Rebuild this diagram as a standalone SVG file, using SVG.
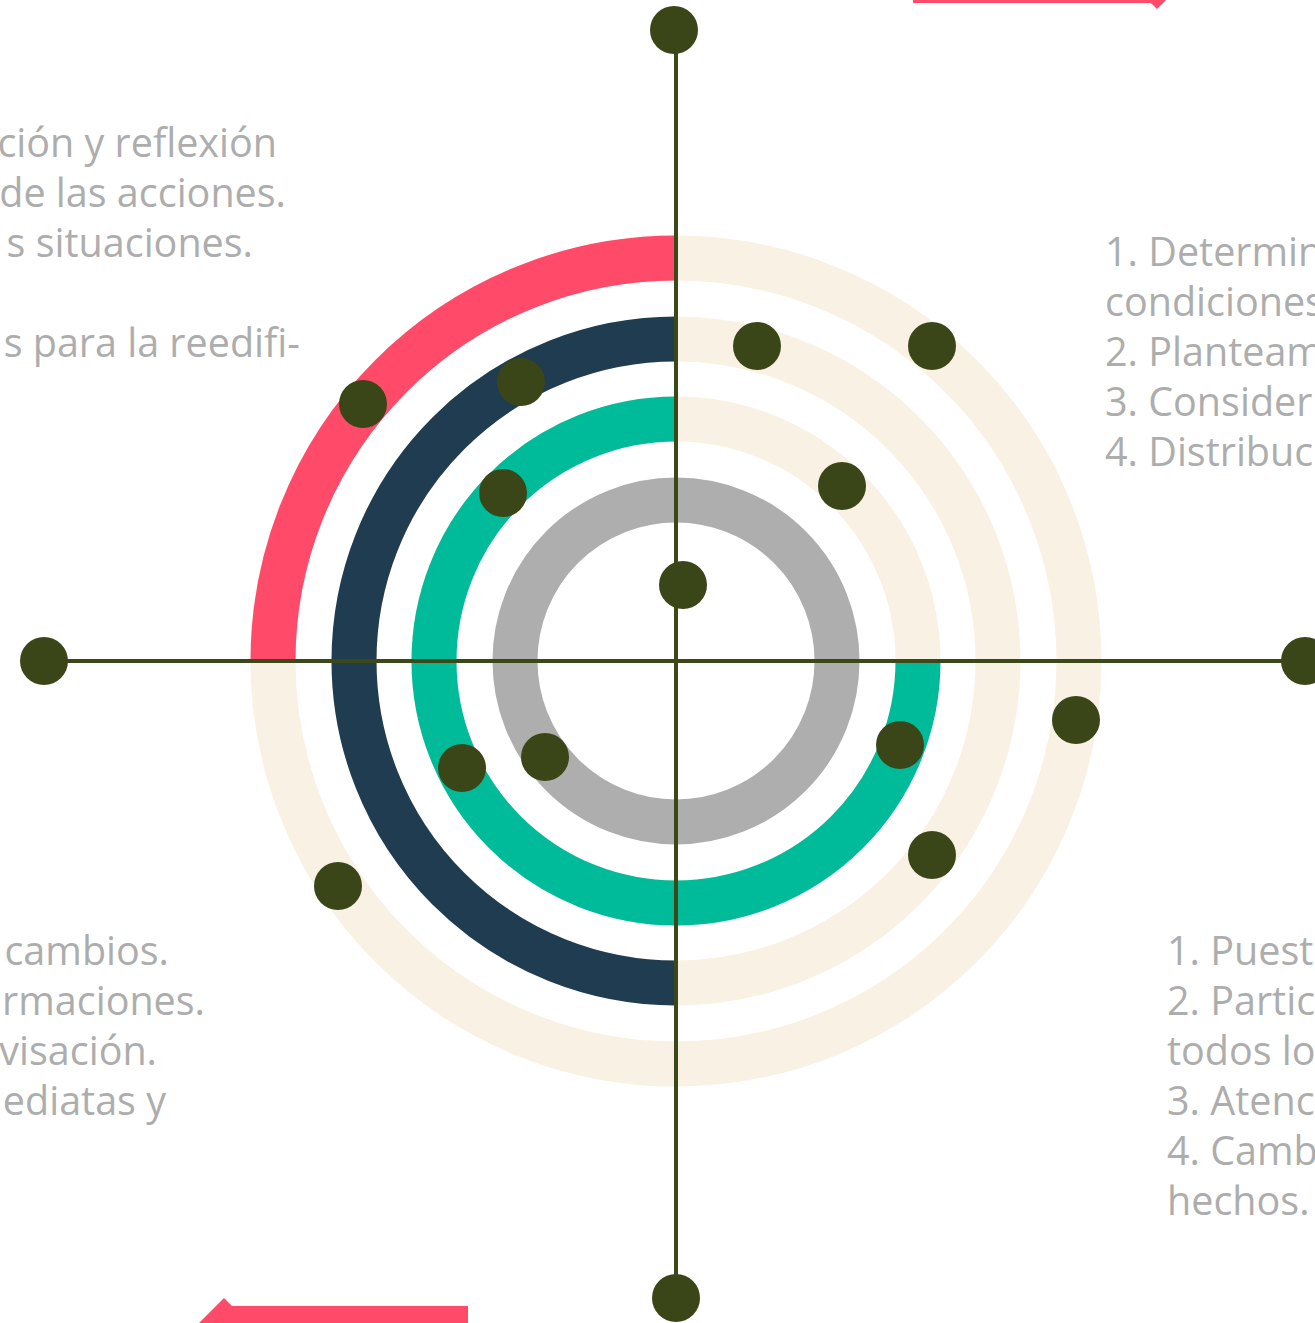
<svg xmlns="http://www.w3.org/2000/svg" width="1315" height="1323" viewBox="0 0 1315 1323">
<style>
.ring{fill:none;stroke-width:45;stroke-linecap:butt}
.bg{stroke:#f9f1e3}
.red{stroke:#ff4b69}
.navy{stroke:#1f3c50}
.green{stroke:#00bb99}
.gray{stroke:#aeaeae}
.axis{stroke:#3d4818;stroke-width:4;fill:none}
.dot{fill:#3b4618}
.txt{font-family:"Open Sans","Noto Sans","Liberation Sans",sans-serif;font-size:39.5px;fill:#adadad}
.arrow{fill:#ff4b69}
</style>
<rect width="1315" height="1323" fill="#ffffff"/>
<g id="arrow-top">
<rect class="arrow" x="913" y="-20" width="240" height="23"/>
<polygon class="arrow" points="1132,-16 1182,-16 1157,9"/>
</g>
<g id="arrow-bottom">
<rect class="arrow" x="224" y="1306" width="244" height="20"/>
<polygon class="arrow" points="224,1298 199,1323 249,1323"/>
</g>
<g id="ring-outer">
<circle class="ring bg" cx="676" cy="661" r="403"/>
<path class="ring red" d="M273,661 A403,403 0 0 1 676,258"/>
</g>
<g id="ring-navy">
<circle class="ring bg" cx="676" cy="661" r="322"/>
<path class="ring navy" d="M676,983 A322,322 0 0 1 354,661 A322,322 0 0 1 676,339"/>
</g>
<g id="ring-green">
<circle class="ring bg" cx="676" cy="661" r="242"/>
<path class="ring green" d="M918,661 A242,242 0 1 1 676,419"/>
</g>
<g id="ring-gray">
<circle class="ring gray" cx="676" cy="661" r="161"/>
</g>
<g id="connectors">
<line class="axis" x1="676" y1="30" x2="676" y2="1298"/>
<line class="axis" x1="44" y1="661" x2="1305" y2="661"/>
</g>
<g id="dots">
<g id="dot-top"><circle class="dot" cx="674" cy="30" r="24"/></g>
<g id="dot-left"><circle class="dot" cx="44" cy="661" r="24"/></g>
<g id="dot-right"><circle class="dot" cx="1305" cy="661" r="24"/></g>
<g id="dot-bottom"><circle class="dot" cx="676" cy="1298" r="24"/></g>
<g id="dot-1"><circle class="dot" cx="757" cy="346" r="24"/></g>
<g id="dot-2"><circle class="dot" cx="932" cy="346" r="24"/></g>
<g id="dot-3"><circle class="dot" cx="842" cy="486" r="24"/></g>
<g id="dot-4"><circle class="dot" cx="683" cy="585" r="24"/></g>
<g id="dot-5"><circle class="dot" cx="363" cy="404" r="24"/></g>
<g id="dot-6"><circle class="dot" cx="521" cy="382" r="24"/></g>
<g id="dot-7"><circle class="dot" cx="503" cy="493" r="24"/></g>
<g id="dot-8"><circle class="dot" cx="1076" cy="720" r="24"/></g>
<g id="dot-9"><circle class="dot" cx="900" cy="745" r="24"/></g>
<g id="dot-10"><circle class="dot" cx="932" cy="855" r="24"/></g>
<g id="dot-11"><circle class="dot" cx="462" cy="768" r="24"/></g>
<g id="dot-12"><circle class="dot" cx="545" cy="757" r="24"/></g>
<g id="dot-13"><circle class="dot" cx="338" cy="886" r="24"/></g>
</g>
<g id="text-top-left" class="txt" text-anchor="end">
<text x="277" y="157">ción y reflexión</text>
<text x="286" y="207">de las acciones.</text>
<text x="253" y="257">s situaciones.</text>
<text x="300" y="357">s para la reedifi-</text>
</g>
<g id="text-top-right" class="txt">
<text x="1105" y="266">1. Determin</text>
<text x="1105" y="316">condiciones</text>
<text x="1105" y="366">2. Planteam</text>
<text x="1105" y="416">3. Consider</text>
<text x="1105" y="466">4. Distribuc</text>
</g>
<g id="text-bottom-right" class="txt">
<text x="1167" y="965">1. Puest</text>
<text x="1167" y="1015">2. Partic</text>
<text x="1167" y="1065">todos lo</text>
<text x="1167" y="1115">3. Atenc</text>
<text x="1167" y="1165">4. Camb</text>
<text x="1167" y="1215">hechos.</text>
</g>
<g id="text-bottom-left" class="txt" text-anchor="end">
<text x="169" y="965">cambios.</text>
<text x="205" y="1015">rmaciones.</text>
<text x="157" y="1065">visación.</text>
<text x="166" y="1115">ediatas y</text>
</g>
</svg>
